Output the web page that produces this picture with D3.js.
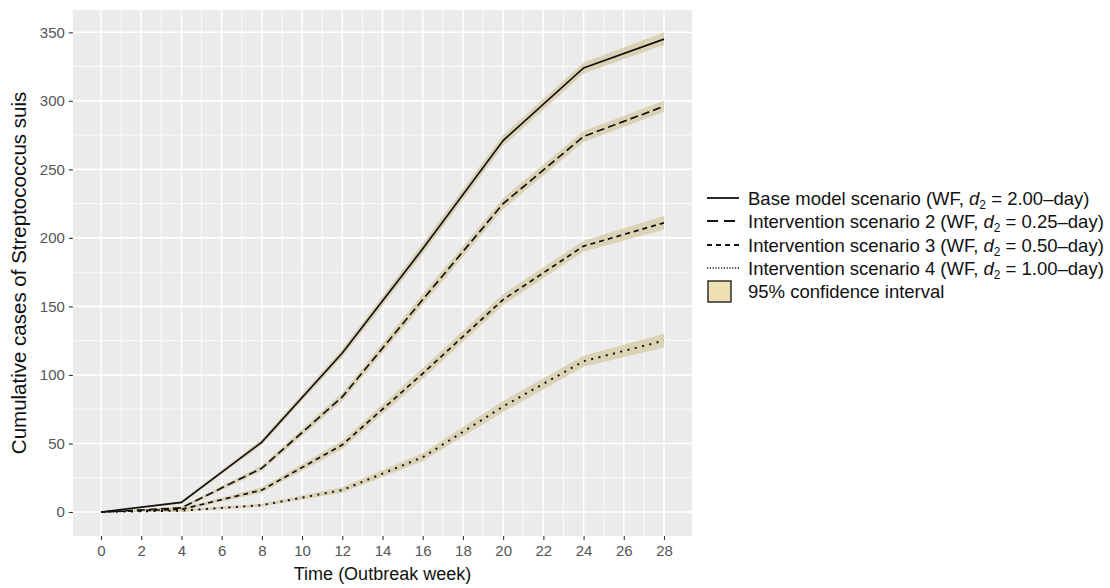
<!DOCTYPE html>
<html>
<head>
<meta charset="utf-8">
<script src="https://cdn.jsdelivr.net/npm/d3@7"></script>
<style>
  body { margin: 0; background: #fff; }
  svg text { font-family: "Liberation Sans", Arial, sans-serif; }
</style>
</head>
<body>
<div id="chart"></div>
<script>
/* DATA */
const weeks = [0, 4, 8, 12, 16, 20, 24, 28];

const baseMid = [0, 7, 51, 116, 192, 271, 324, 345];
const baseLo  = [0, 6, 49, 113, 188, 267, 320, 341];
const baseHi  = [0, 8, 53, 119, 196, 275, 328, 350];

const int2Mid = [0, 3, 32, 84, 155, 225, 274, 296];
const int2Lo  = [0, 2, 30, 81, 151, 221, 270, 292];
const int2Hi  = [0, 4, 34, 87, 159, 229, 278, 300];

const int3Mid = [0, 2, 16, 49, 101, 155, 194, 211];
const int3Lo  = [0, 1, 14, 46, 97, 151, 190, 206];
const int3Hi  = [0, 3, 18, 52, 105, 159, 198, 216];

const int4Mid = [0, 1, 5, 16, 40, 77, 110, 125];
const int4Lo  = [0, 0, 4, 14, 37, 73, 106, 120];
const int4Hi  = [0, 2, 6, 18, 43, 81, 114, 130];

const xTicks = [0, 2, 4, 6, 8, 10, 12, 14, 16, 18, 20, 22, 24, 26, 28];
const yTicks = [0, 50, 100, 150, 200, 250, 300, 350];

const seriesNames = ["Base model scenario", "Intervention scenario 2", "Intervention scenario 3", "Intervention scenario 4"];
const seriesD2 = ["2.00", "0.25", "0.50", "1.00"];
const ciLabel = "95% confidence interval";

/* CONSTANTS */
const width = 1110, height = 588;
const bandFill = "#d4c8a0";
const keyFill = "#efe0b3";
const dashes = [null, "8,4", "5,4", "2,5.5"];
const keyDashes = [null, "11,6", "5,4", "1.2,1.6"];

const series = [
  { mid: baseMid, lo: baseLo, hi: baseHi },
  { mid: int2Mid, lo: int2Lo, hi: int2Hi },
  { mid: int3Mid, lo: int3Lo, hi: int3Hi },
  { mid: int4Mid, lo: int4Lo, hi: int4Hi }
];

const xScale = d3.scaleLinear().domain([0, 28]).range([101, 664]);
const yScale = d3.scaleLinear().domain([0, 350]).range([512, 32.3]);

const svg = d3.select("#chart").append("svg")
  .attr("width", width)
  .attr("height", height);

// panel
const px0 = xScale(-1.4), px1 = xScale(29.4);
const py0 = yScale(366.3), py1 = yScale(-17.5);
svg.append("rect")
  .attr("x", px0).attr("y", py0)
  .attr("width", px1 - px0).attr("height", py1 - py0)
  .attr("fill", "#ebebeb");

// minor grid
const grid = svg.append("g");
d3.range(1, 28, 2).forEach(w => {
  grid.append("line")
    .attr("x1", xScale(w)).attr("x2", xScale(w))
    .attr("y1", py0).attr("y2", py1)
    .attr("stroke", "#fff").attr("stroke-width", 0.8);
});
d3.range(25, 360, 50).forEach(v => {
  grid.append("line")
    .attr("x1", px0).attr("x2", px1)
    .attr("y1", yScale(v)).attr("y2", yScale(v))
    .attr("stroke", "#fff").attr("stroke-width", 0.8);
});
// major grid
xTicks.forEach(w => {
  grid.append("line")
    .attr("x1", xScale(w)).attr("x2", xScale(w))
    .attr("y1", py0).attr("y2", py1)
    .attr("stroke", "#fff").attr("stroke-width", 1.6);
});
yTicks.forEach(v => {
  grid.append("line")
    .attr("x1", px0).attr("x2", px1)
    .attr("y1", yScale(v)).attr("y2", yScale(v))
    .attr("stroke", "#fff").attr("stroke-width", 1.6);
});

// bands
const area = d3.area()
  .x((d, i) => xScale(weeks[i]))
  .y0(d => yScale(d[0]))
  .y1(d => yScale(d[1]));

series.forEach(s => {
  const pts = s.lo.map((v, i) => [v, s.hi[i]]);
  svg.append("path")
    .attr("d", area(pts))
    .attr("fill", bandFill)
    .attr("fill-opacity", 0.72);
});

// lines
const line = d3.line()
  .x((d, i) => xScale(weeks[i]))
  .y(d => yScale(d));

series.forEach((s, k) => {
  svg.append("path")
    .attr("d", line(s.mid))
    .attr("fill", "none")
    .attr("stroke", "#111")
    .attr("stroke-width", k === 3 ? 2 : 1.7)
    .attr("stroke-dasharray", dashes[k]);
});

// axes
const xAxis = d3.axisBottom(xScale).tickValues(xTicks).tickSize(4).tickPadding(5);
const yAxis = d3.axisLeft(yScale).tickValues(yTicks).tickSize(4).tickPadding(4);

const gx = svg.append("g")
  .attr("transform", `translate(0, ${py1})`)
  .call(xAxis);
const gy = svg.append("g")
  .attr("transform", `translate(${px0}, 0)`)
  .call(yAxis);

[gx, gy].forEach(g => {
  g.select(".domain").remove();
  g.selectAll(".tick line").attr("stroke", "#333").attr("stroke-width", 1.1);
  g.selectAll(".tick text")
    .attr("fill", "#555")
    .attr("font-size", 15);
});

// axis titles
svg.append("text")
  .attr("x", (px0 + px1) / 2)
  .attr("y", 580)
  .attr("text-anchor", "middle")
  .attr("font-size", 18)
  .attr("fill", "#111")
  .text("Time (Outbreak week)");

svg.append("text")
  .attr("transform", `translate(26, ${(py0 + py1) / 2}) rotate(-90)`)
  .attr("text-anchor", "middle")
  .attr("font-size", 20.5)
  .attr("fill", "#111")
  .text("Cumulative cases of Streptococcus suis");

// legend
const legend = svg.append("g");
const rowY = [198, 221, 245, 268];
const keyX0 = 707, keyX1 = 739, textX = 748;

seriesNames.forEach((name, k) => {
  legend.append("line")
    .attr("x1", keyX0).attr("x2", keyX1)
    .attr("y1", rowY[k]).attr("y2", rowY[k])
    .attr("stroke", "#111")
    .attr("stroke-width", k === 3 ? 1.4 : 1.8)
    .attr("stroke-dasharray", keyDashes[k]);
  const t = legend.append("text")
    .attr("x", textX).attr("y", rowY[k])
    .attr("dy", "0.36em")
    .attr("font-size", 18.5)
    .attr("fill", "#111");
  t.append("tspan").text(name + " (WF, ");
  t.append("tspan").attr("font-style", "italic").text("d");
  t.append("tspan").attr("font-size", 12).attr("dy", 4).text("2");
  t.append("tspan").attr("dy", -4).text(" = " + seriesD2[k] + "\u2013day)");
});

legend.append("rect")
  .attr("x", 708).attr("y", 281)
  .attr("width", 23).attr("height", 21)
  .attr("fill", keyFill)
  .attr("stroke", "#222")
  .attr("stroke-width", 1.4);
legend.append("text")
  .attr("x", textX).attr("y", 291.5)
  .attr("dy", "0.36em")
  .attr("font-size", 18.5)
  .attr("fill", "#111")
  .text(ciLabel);
</script>
</body>
</html>
